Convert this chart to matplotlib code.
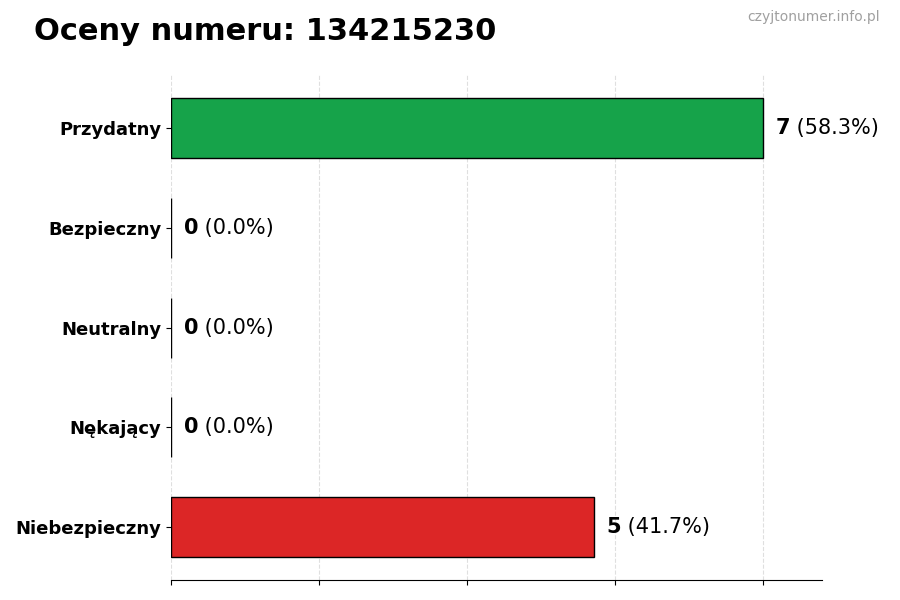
import matplotlib.pyplot as plt
import numpy as np

# data
categories = ['Przydatny', 'Bezpieczny', 'Neutralny', 'Nękający', 'Niebezpieczny']
counts = [7, 0, 0, 0, 5]
colors = ['#16a34a', '#9ca3af', '#6b7280', '#f59e0b', '#dc2626']
total = sum(counts)

fig = plt.figure(figsize=(9, 6), dpi=100)
ax = fig.add_axes([0.19, 0.033, 0.723, 0.842])

y = np.arange(len(categories))
ax.barh(y, counts, height=0.6, color=colors, edgecolor='black', linewidth=1, zorder=2)
ax.set_yticks(y)
ax.set_yticklabels(categories, fontsize=13, fontweight='bold')
ax.invert_yaxis()

xmax = max(counts)
ax.set_xlim(0, xmax * 1.1)
ax.set_xticks(np.linspace(0, xmax, 5))
ax.set_xticklabels([])
ax.grid(axis='x', alpha=.4, linestyle='--', zorder=3)

for s in ['top', 'right', 'left']:
    ax.spines[s].set_visible(False)

# value labels: bold count + normal percentage
for yi, c in zip(y, counts):
    pct = 100 * c / total
    t = ax.text(c + 0.15, yi, str(c), fontsize=15, fontweight='bold', va='center', ha='left')
    ax.annotate(f' ({pct:.1f}%)', xy=(1, 0.5), xycoords=t, fontsize=15,
                va='center', ha='left')

# title and watermark
fig.text(0.038, 0.948, 'Oceny numeru: 134215230', fontsize=22, fontweight='bold',
         va='center', ha='left')
fig.text(0.978, 0.971, 'czyjtonumer.info.pl', fontsize=10, color='#a0a0a0',
         va='center', ha='right')

plt.savefig('out.png', dpi=100)
